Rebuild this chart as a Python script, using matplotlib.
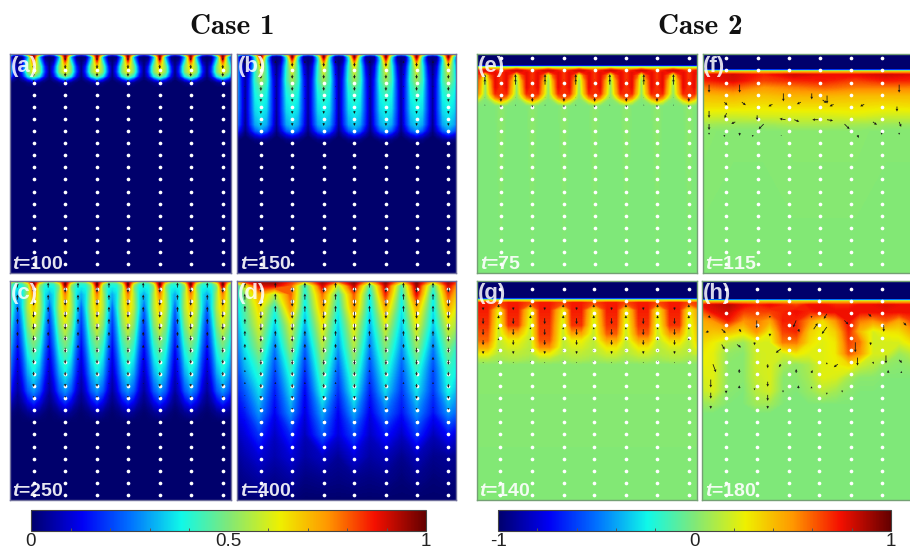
import matplotlib
matplotlib.use('Agg')
import matplotlib.pyplot as plt
import numpy as np
from matplotlib.colors import LinearSegmentedColormap, Normalize
from matplotlib.cm import ScalarMappable

plt.rcParams['font.family'] = ['Liberation Sans', 'DejaVu Sans']
plt.rcParams['mathtext.fontset'] = 'custom'
plt.rcParams['mathtext.bfit'] = 'Liberation Sans:italic:bold'

W, H = 910, 548

# columns of white tracer dots, and the gaps between them (panel fractions)
dot_x = [.109, .252, .396, .536, .68, .82, .965]
gap_x = [.036, .175, .31, .45, .605, .76, .895]
dot_depth_top = [.02 + .0553 * k for k in range(18)]
dot_depth_bottom = [.037 + .0553 * k for k in range(18)]

# finger centres used for the periodic panels (one outside each edge)
finger_centres = [-.034, .109, .252, .396, .536, .68, .82, .965, 1.107]

# panel a, t=100: value down the finger centre, its flanks and the gap
a_depth = [0, .004, .012, .025, .04, .06, .08, .10, .115, .13, .15, 1]
a_center = [.9, .95, .97, .88, .76, .66, .63, .5, .28, .05, 0, 0]
a_inner = [.8, .6, .3, .35, .42, .5, .5, .38, .15, .02, 0, 0]
a_outer = [.78, .2, .02, .03, .08, .16, .18, .12, .04, 0, 0, 0]
a_gap = [.75, .1, 0, 0, 0, 0, 0, 0, 0, 0, 0, 0]

# panel b, t=150
b_depth = [0, .005, .012, .03, .06, .12, .18, .25, .32, .35, .37, .39, .41, 1]
b_center = [.9, .95, .97, .8, .62, .53, .43, .38, .34, .28, .15, .03, 0, 0]
b_inner = [.8, .55, .4, .35, .4, .42, .38, .35, .3, .22, .1, .02, 0, 0]
b_outer = [.78, .2, .04, .05, .12, .17, .18, .18, .16, .1, .04, 0, 0, 0]
b_gap = [.75, .12, .02, 0, .01, .03, .03, .03, .02, .01, 0, 0, 0, 0]

# panel c, t=250
c_depth = [0, .005, .015, .03, .06, .12, .2, .28, .35, .42, .5, .55, .6, .64, 1]
c_center = [.9, .95, .98, .88, .76, .68, .6, .5, .43, .37, .28, .18, .05, 0, 0]
c_inner = [.85, .7, .55, .5, .55, .56, .5, .42, .36, .3, .22, .12, .03, 0, 0]
c_outer = [.8, .5, .4, .38, .36, .36, .3, .25, .2, .16, .1, .05, .01, 0, 0]
c_gap = [.75, .45, .4, .36, .3, .22, .17, .13, .1, .07, .04, .02, 0, 0, 0]

# panel d, t=400
d_x = [0, .035, .10, .172, .245, .31, .39, .462, .534, .607, .678, .752, .82, .896, .965, 1]
d_depth = [0, .02, .06, .12, .2, .3, .4, .5, .6, .7, .8, .9, 1]
d_field = [
    [.75, .85, .95, .97, .85, .7, .95, .8, .97, .7, .97, .7, .97, .7, .95, .85],
    [.4, .6, .9, .9, .8, .4, .9, .55, .92, .42, .92, .42, .95, .42, .9, .75],
    [.38, .5, .72, .55, .8, .38, .78, .42, .8, .36, .85, .38, .88, .36, .82, .68],
    [.35, .45, .66, .4, .75, .35, .72, .38, .75, .34, .72, .36, .72, .35, .72, .62],
    [.3, .42, .6, .33, .6, .3, .63, .33, .63, .3, .6, .32, .62, .32, .6, .55],
    [.25, .36, .52, .25, .52, .22, .55, .28, .55, .25, .5, .27, .52, .25, .5, .42],
    [.2, .3, .42, .2, .42, .17, .47, .22, .47, .2, .42, .22, .42, .2, .42, .38],
    [.16, .22, .35, .15, .35, .12, .4, .17, .4, .15, .35, .18, .36, .18, .38, .32],
    [.12, .15, .28, .12, .28, .1, .3, .12, .3, .11, .25, .14, .28, .14, .28, .24],
    [.07, .1, .18, .08, .17, .07, .22, .1, .2, .08, .15, .08, .18, .07, .14, .1],
    [.04, .06, .1, .06, .1, .05, .08, .04, .1, .05, .07, .03, .07, .03, .04, .03],
    [.02, .03, .05, .03, .05, .02, .03, .02, .03, .02, .03, .01, .03, .01, .02, .01],
    [0, 0, .01, 0, .01, 0, 0, 0, 0, 0, 0, 0, 0, 0, 0, 0],
]

# panel e, t=75
e_depth = [0, .05, .056, .062, .068, .076, .085, .095, .12, .15, .18, .2, .215, .235, 1]
e_center = [-1, -1, -.3, .15, .4, .62, .66, .66, .66, .66, .68, .62, .38, .03, 0]
e_inner = [-1, -1, -.3, .15, .4, .7, .76, .76, .76, .76, .7, .5, .2, 0, 0]
e_outer = [-1, -1, -.3, .15, .45, .78, .72, .6, .45, .4, .35, .15, .02, 0, 0]
e_gap = [-1, -1, -.3, .2, .55, .8, .5, .12, .02, .01, 0, 0, 0, 0, 0]

# panel f, t=115
f_x = [0, .14, .28, .42, .56, .7, .84, 1]
f_depth = [0, .067, .075, .082, .095, .12, .15, .19, .24, .28, .32, .35, 1]
f_field = [
    [-1] * 8,
    [-1] * 8,
    [-.2] * 8,
    [.4] * 8,
    [.75, .8, .7, .8, .75, .75, .8, .75],
    [.7, .78, .65, .7, .72, .65, .72, .7],
    [.55, .62, .5, .55, .6, .55, .55, .55],
    [.4, .42, .38, .42, .42, .4, .4, .4],
    [.3, .3, .28, .3, .3, .3, .28, .3],
    [.2, .18, .2, .2, .2, .22, .18, .18],
    [.08, .06, .06, .1, .1, .08, .06, .06],
    [.02, .01, .01, .02, .02, .02, .01, .01],
    [0] * 8,
]

# panel g, t=140: columns alternate red finger / yellow gap
g_x = [.03, .10, .167, .245, .31, .394, .455, .533, .614, .679, .758, .823, .9, .965]
g_depth = [0, .075, .083, .09, .1, .13, .2, .24, .27, .3, .33, .36, .38, 1]
g_field = [
    [-1] * 14,
    [-1] * 14,
    [-.3] * 14,
    [.3] * 14,
    [.72, .62, .72, .62, .72, .62, .72, .62, .72, .62, .72, .62, .72, .62],
    [.72, .24, .72, .24, .72, .24, .72, .24, .72, .24, .72, .24, .72, .24],
    [.68, .16, .68, .16, .68, .16, .68, .16, .68, .16, .68, .16, .68, .16],
    [.62, .14, .42, .14, .66, .14, .46, .14, .6, .14, .6, .14, .5, .14],
    [.58, .13, .26, .13, .62, .13, .26, .13, .45, .13, .45, .13, .32, .13],
    [.45, .12, .2, .12, .52, .12, .2, .12, .28, .12, .28, .12, .2, .12],
    [.27, .11, .14, .11, .27, .11, .14, .11, .18, .11, .18, .11, .14, .11],
    [.1, .06, .09, .06, .1, .06, .09, .06, .09, .06, .09, .06, .09, .06],
    [.02] * 14,
    [0] * 14,
]

# panel h, t=180
h_x = [0, .05, .12, .19, .25, .31, .37, .43, .49, .55, .61, .67, .72, .78, .84, .9, .96, 1]
h_depth = [0, .08, .088, .095, .11, .14, .18, .23, .28, .33, .38, .44, .5, .56, .6, 1]
h_field = [
    [-1] * 18,
    [-1] * 18,
    [-.1] * 18,
    [.4] * 18,
    [.75, .8, .85, .75, .7, .75, .7, .65, .75, .75, .7, .7, .75, .75, .78, .75, .75, .75],
    [.6, .75, .8, .65, .65, .65, .7, .75, .7, .75, .75, .75, .75, .75, .75, .75, .75, .75],
    [.45, .5, .72, .5, .55, .45, .72, .7, .5, .3, .5, .75, .55, .5, .6, .45, .65, .65],
    [.4, .38, .4, .3, .5, .25, .65, .7, .35, .25, .35, .7, .4, .2, .28, .3, .45, .45],
    [.32, .26, .12, .06, .2, .2, .55, .55, .3, .22, .28, .65, .55, .18, .2, .2, .3, .3],
    [.27, .23, .04, .02, .18, .2, .18, .28, .22, .22, .27, .6, .5, .2, .2, .06, .13, .13],
    [.25, .23, .02, .02, .18, .2, .08, .04, .1, .22, .25, .32, .18, .12, .04, .02, .04, .04],
    [.2, .22, .02, .02, .16, .2, .02, .02, .08, .22, .2, .08, .02, .02, 0, 0, 0, 0],
    [.16, .2, .02, 0, .13, .18, .02, 0, .05, .13, .08, .02, 0, 0, 0, 0, 0, 0],
    [.05, .07, 0, 0, .07, .07, 0, 0, 0, 0, 0, 0, 0, 0, 0, 0, 0, 0],
    [0] * 18,
    [0] * 18,
]

# vertical velocity by row in pixels, minus is downward
a_arrow_depth = [.02, .05, .085, .12]
a_arrow_v = [-2, -4, -4, -2]
b_arrow_depth = [.04, .095, .15, .205, .26, .315]
b_arrow_v = [-4, -4, -4, -3, -3, -3]
b_gap_v = [2, 1, 1, 1, 0, 0]
c_arrow_depth = [.03, .085, .14, .195, .25, .305, .36, .415, .47, .525]
c_arrow_v = [-5, -6, -6, -6, -5, -5, -4, -4, -3, -2]
c_gap_v = [5, 5, 5, 5, 4, 3, 2, 1, 1, 0]
d_arrow_depth = [.03, .085, .14, .195, .25, .305, .36, .415, .47, .525, .58, .635]
d_arrow_v = [-5, -7, -7, -7, -6, -5, -5, -4, -4, -3, -2, -1]
d_gap_v = [5, 6, 6, 5, 5, 4, 3, 2, 2, 1, 1, 0]
e_arrow_depth = [.115, .14, .2, .235]
e_arrow_v = [0, 0, -4, -2]
e_gap_v = [5, 6, 0, 1]
g_arrow_depth = [.12, .17, .22, .27, .32, .37]
g_arrow_v = [-3, -6, -6, -5, -3, -1]
g_gap_v = [3, 3, 2, 2, 1, 1]

# panels f and h have no regular pattern, arrows read one by one: x, depth, u, v
f_arrows = [
    (.03, .14, 0, -8), (.17, .14, 0, -8), (.37, .18, 0, -8), (.50, .18, 0, -6), (.57, .19, 0, -8),
    (.90, .14, 0, -8), (.10, .22, 3, -3), (.18, .22, 4, -3), (.32, .23, -4, -2), (.45, .22, -4, -2),
    (.55, .21, 4, -3), (.60, .23, -4, -2), (.74, .23, -4, -2), (.89, .24, 0, -5), (.03, .26, 0, -7),
    (.11, .27, -2, -5), (.25, .28, 0, -5), (.28, .32, -5, -5), (.03, .32, 0, -6), (.15, .31, -4, -2),
    (.38, .30, -6, 1), (.42, .30, 5, -2), (.53, .30, -6, 0), (.57, .30, 6, -1), (.65, .32, 5, -5),
    (.78, .31, 4, -3), (.90, .31, 2, -5), (.03, .36, 0, -2), (.10, .37, 0, -2), (.17, .36, 0, -3),
    (.23, .37, 0, -2), (.36, .37, 0, -1), (.71, .37, 1, -3), (.82, .36, 0, -2), (.90, .36, 0, -2),
]
h_arrows = [
    (.03, .16, 2, -2), (.09, .22, 4, -4), (.17, .22, 2, -3), (.25, .18, 0, -8), (.31, .16, 0, -2),
    (.43, .18, -3, -7), (.50, .16, 0, -2), (.57, .15, -3, -5), (.65, .18, 4, -4), (.76, .15, 3, -3),
    (.83, .2, 0, -7), (.92, .19, 3, -3), (.03, .23, -3, -1), (.09, .29, 3, -5), (.16, .29, 4, -3),
    (.24, .28, 0, -3), (.31, .24, 0, -3), (.36, .31, -5, -4), (.44, .22, 1, -3), (.51, .22, 4, 6),
    (.57, .21, -5, -7), (.70, .28, 0, -10), (.77, .28, 0, -3), (.84, .34, 0, -8), (.90, .36, 3, -3),
    (.05, .38, 3, -8), (.17, .42, 0, 4), (.30, .38, 0, -4), (.36, .38, -2, -3), (.43, .42, 0, 4),
    (.50, .42, 1, 3), (.57, .38, 0, 2), (.62, .38, -4, -3), (.71, .35, 0, -8), (.78, .37, 1, -2),
    (.85, .42, 0, 3), (.91, .42, 0, 2), (.04, .45, 0, -8), (.11, .5, 0, -3), (.17, .49, 0, 3),
    (.24, .49, 0, -2), (.30, .46, 0, -5), (.37, .5, 0, -2), (.44, .49, 0, 3), (.50, .49, 0, 2),
    (.57, .51, 0, -2), (.64, .5, 0, -2), (.04, .51, 0, -6), (.30, .52, 0, -6), (.04, .57, 0, -3),
    (.30, .57, 0, -3),
]

cbar_ticks_1 = [0, .5, 1]
cbar_labels_1 = ['0', '0.5', '1']
cbar_ticks_2 = [-1, 0, 1]
cbar_labels_2 = ['-1', '0', '1']

field_cmap = LinearSegmentedColormap.from_list('field', [
    (0, '#00006c'), (.13, '#0000f5'), (.25, '#0070ff'), (.38, '#10f8e8'), (.5, '#80e878'),
    (.63, '#eef000'), (.75, '#ff9800'), (.87, '#f51000'), (1, '#640000')], N=512)


def make_axes(x0, y0, x1, y1):
    return fig.add_axes([x0 / W, 1 - y1 / H, (x1 - x0) / W, (y1 - y0) / H])


def periodic_field(center, inner, outer, gap):
    xs, cols = [], []
    for c in finger_centres:
        xs += [c - .0713, c - .05, c - .025, c, c + .025, c + .05]
        cols += [gap, outer, inner, center, inner, outer]
    xs.append(finger_centres[-1] + .0713)
    cols.append(gap)
    return np.array(xs), np.array(cols).T


def plateau_field(xs, field):
    # finger columns keep a flat top, so every second column is written twice
    field = np.array(field)
    new_x, cols = [-.05], [field[:, -1]]
    for i, x in enumerate(xs):
        if i % 2 == 0:
            new_x += [x - .02, x + .02]
            cols += [field[:, i], field[:, i]]
        else:
            new_x.append(x)
            cols.append(field[:, i])
    new_x.append(1.05)
    cols.append(field[:, 0])
    return np.array(new_x), np.array(cols).T


def draw_panel(box, xs, field, depth, norm, edge, label, time, dots):
    ax = make_axes(*box)
    levels = np.linspace(norm.vmin, norm.vmax, 257)
    ax.contourf(xs, depth, field, levels=levels, cmap=field_cmap, norm=norm, extend='both',
                antialiased=False)
    ax.set_xlim(0, 1)
    ax.set_ylim(1, 0)
    ax.set_xticks([])
    ax.set_yticks([])
    for s in ax.spines.values():
        s.set_color(edge)
        s.set_linewidth(1.0)
    dx, dy = np.meshgrid(dot_x, dots)
    ax.scatter(dx.ravel(), dy.ravel(), s=7, c='white', linewidths=0, zorder=4)
    # transAxes runs bottom-up whatever the data limits do
    ax.text(.004, .945, label, color='white', alpha=.85, fontsize=16, fontweight='bold',
            transform=ax.transAxes, va='center', ha='left', zorder=6)
    ax.text(.012, .04, r'$\mathbfit{t}$=' + time, color='white', alpha=.9, fontsize=14,
            fontweight='bold', transform=ax.transAxes, va='center', ha='left', zorder=6)
    return ax


def draw_arrows(ax, xs, ys, us, vs):
    ax.quiver(xs, ys, us, vs, angles='uv', scale_units='dots', scale=1, units='dots', width=.8,
              headwidth=3.5, headlength=3.5, headaxislength=3, minlength=.5, color='#151515', zorder=5)


def column_arrows(ax, cols, depth, v):
    x, y = np.meshgrid(cols, depth)
    vv = np.tile(np.array(v)[:, None], (1, len(cols)))
    draw_arrows(ax, x.ravel(), y.ravel(), np.zeros(x.size), vv.ravel())


def point_arrows(ax, arrows):
    x, y, u, v = np.array(arrows).T
    draw_arrows(ax, x, y, u, v)


def draw_colorbar(box, norm, ticks, labels, edge):
    cax = make_axes(*box)
    cb = fig.colorbar(ScalarMappable(norm=norm, cmap=field_cmap), cax=cax, orientation='horizontal')
    cb.set_ticks(ticks)
    cb.set_ticklabels(labels)
    cb.ax.tick_params(axis='x', which='major', length=0, labelsize=13.5, pad=1.5, labelcolor='#222222')
    cb.ax.set_xticks(np.linspace(norm.vmin, norm.vmax, 11), minor=True)
    cb.ax.tick_params(axis='x', which='minor', direction='in', length=2, width=.7, color='#555555')
    cb.outline.set_edgecolor(edge)
    cb.outline.set_linewidth(.8)


fig = plt.figure(figsize=(W / 100, H / 100), dpi=100)
norm1 = Normalize(0, 1)
norm2 = Normalize(-1, 1)
edge1 = '#70709c'
edge2 = '#74a074'

ax = draw_panel((9.5, 54, 230.5, 273), *periodic_field(a_center, a_inner, a_outer, a_gap),
                a_depth, norm1, edge1, '(a)', '100', dot_depth_top[1:])
column_arrows(ax, dot_x, a_arrow_depth, a_arrow_v)

ax = draw_panel((237, 54, 456, 273), *periodic_field(b_center, b_inner, b_outer, b_gap),
                b_depth, norm1, edge1, '(b)', '150', dot_depth_top[1:])
column_arrows(ax, dot_x, b_arrow_depth, b_arrow_v)
column_arrows(ax, gap_x, b_arrow_depth, b_gap_v)

ax = draw_panel((9.5, 281, 230.5, 500), *periodic_field(c_center, c_inner, c_outer, c_gap),
                c_depth, norm1, edge1, '(c)', '250', dot_depth_bottom)
column_arrows(ax, dot_x, c_arrow_depth, c_arrow_v)
column_arrows(ax, gap_x, c_arrow_depth, c_gap_v)

ax = draw_panel((237, 281, 456, 500), d_x, d_field, d_depth, norm1, edge1, '(d)', '400', dot_depth_bottom)
column_arrows(ax, dot_x, d_arrow_depth, d_arrow_v)
column_arrows(ax, gap_x, d_arrow_depth, d_gap_v)

ax = draw_panel((477, 54, 696.5, 273), *periodic_field(e_center, e_inner, e_outer, e_gap),
                e_depth, norm2, edge2, '(e)', '75', dot_depth_top)
column_arrows(ax, dot_x, e_arrow_depth, e_arrow_v)
column_arrows(ax, gap_x, e_arrow_depth, e_gap_v)

ax = draw_panel((702.5, 54, 921, 273), f_x, f_field, f_depth, norm2, edge2, '(f)', '115', dot_depth_top)
point_arrows(ax, f_arrows)

ax = draw_panel((476.5, 281, 696.5, 500), *plateau_field(g_x, g_field),
                g_depth, norm2, edge2, '(g)', '140', dot_depth_bottom)
column_arrows(ax, g_x[0::2], g_arrow_depth, g_arrow_v)
column_arrows(ax, g_x[1::2], g_arrow_depth, g_gap_v)

ax = draw_panel((702, 281, 921, 500), h_x, h_field, h_depth, norm2, edge2, '(h)', '180', dot_depth_bottom)
point_arrows(ax, h_arrows)

draw_colorbar((31, 510, 426, 530.5), norm1, cbar_ticks_1, cbar_labels_1, '#444444')
draw_colorbar((498, 510, 891, 530.5), norm2, cbar_ticks_2, cbar_labels_2, '#444444')

fig.text(232 / W, 1 - 27 / H, 'Case 1', family='cmb10', fontsize=21, ha='center', va='center', color='#111111')
fig.text(700 / W, 1 - 27 / H, 'Case 2', family='cmb10', fontsize=21, ha='center', va='center', color='#111111')

fig.savefig('out.png', dpi=100)
